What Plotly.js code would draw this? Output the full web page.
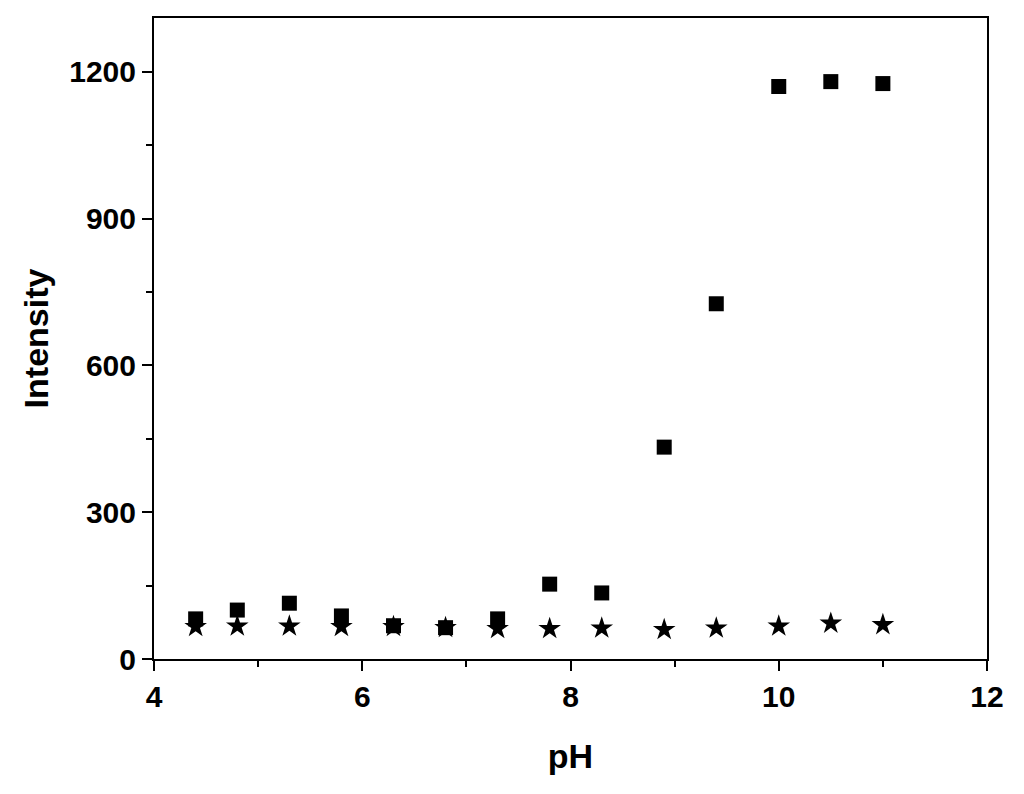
<!DOCTYPE html>
<html>
<head>
<meta charset="utf-8">
<script src="https://cdn.plot.ly/plotly-3.0.1.min.js"></script>
<style>html,body{margin:0;padding:0;background:#fff;}#chart{width:1024px;height:794px;}</style>
</head>
<body>
<div id="chart"></div>
<script>
const pH = [4.4, 4.8, 5.3, 5.8, 6.3, 6.8, 7.3, 7.8, 8.3, 8.9, 9.4, 10.0, 10.5, 11.0];
const squareIntensity = [82, 100, 114, 88, 68, 64, 82, 153, 135, 433, 726, 1170, 1180, 1176];
const starIntensity = [66, 67, 67, 66, 66, 64, 62, 62, 63, 60, 63, 67, 73, 70];

const font = {family: '"Liberation Sans", Arial, sans-serif', color: '#000'};

const traces = [
  {x: pH, y: starIntensity, type: 'scatter', mode: 'markers',
   marker: {symbol: 'star', size: 17, color: '#000'}, cliponaxis: false},
  {x: pH, y: squareIntensity, type: 'scatter', mode: 'markers',
   marker: {symbol: 'square', size: 15, color: '#000'}, cliponaxis: false}
];

const layout = {
  width: 1024, height: 794,
  margin: {l: 154, r: 37, t: 18, b: 135},
  paper_bgcolor: '#fff', plot_bgcolor: '#fff',
  showlegend: false,
  xaxis: {
    range: [4, 12], dtick: 2, tick0: 4,
    showgrid: false, zeroline: false,
    showline: true, linecolor: '#000', linewidth: 2, mirror: true,
    ticks: 'outside', ticklen: 10, tickwidth: 2, tickcolor: '#000',
    minor: {dtick: 1, ticks: 'outside', ticklen: 6, tickwidth: 2, tickcolor: '#000', showgrid: false},
    tickfont: Object.assign({size: 30, weight: 'bold'}, font),
    title: {text: 'pH', font: Object.assign({size: 34, weight: 'bold'}, font), standoff: 32}
  },
  yaxis: {
    range: [0, 1310], dtick: 300, tick0: 0,
    showgrid: false, zeroline: false,
    showline: true, linecolor: '#000', linewidth: 2, mirror: true,
    ticks: 'outside', ticklen: 10, tickwidth: 2, tickcolor: '#000',
    minor: {dtick: 150, ticks: 'outside', ticklen: 6, tickwidth: 2, tickcolor: '#000', showgrid: false},
    tickfont: Object.assign({size: 30, weight: 'bold'}, font),
    title: {text: 'Intensity', font: Object.assign({size: 34, weight: 'bold'}, font), standoff: 10}
  }
};

Plotly.newPlot('chart', traces, layout, {displayModeBar: false, staticPlot: true});
</script>
</body>
</html>
